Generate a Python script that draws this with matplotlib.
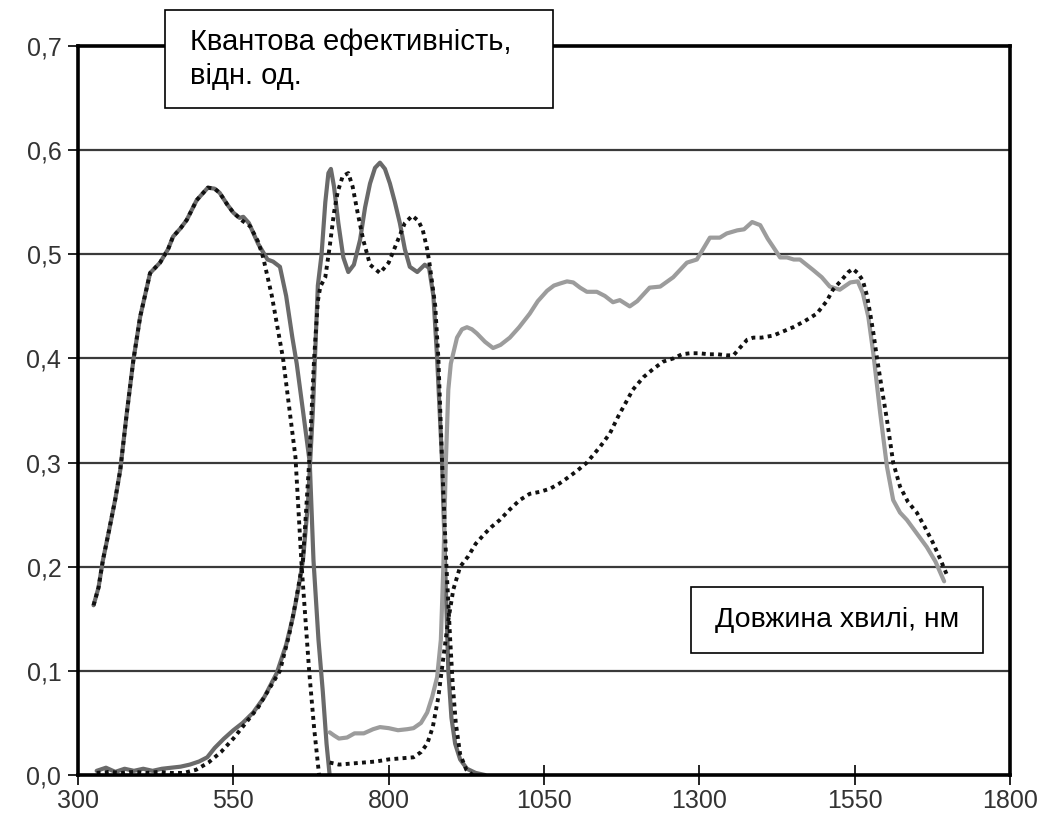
import matplotlib
matplotlib.use("Agg")
import matplotlib.pyplot as plt
from matplotlib.patches import Rectangle

plt.rcParams["font.family"] = ["Liberation Sans", "DejaVu Sans"]

# --- дані ---
# видимий діапазон (пунктир + суцільна темна)
vis_dot_x = [325, 333, 340, 350, 360, 368, 378, 389, 400, 416, 432, 445, 453, 465, 475, 491,
             509, 520, 528, 540, 550, 565, 577, 590, 598, 612, 630, 650, 660, 672, 680, 688]
vis_dot_y = [0.163, 0.18, 0.206, 0.235, 0.265, 0.293, 0.345, 0.398, 0.44, 0.482, 0.492, 0.505,
             0.517, 0.525, 0.533, 0.552, 0.564, 0.563, 0.559, 0.548, 0.54, 0.532, 0.527, 0.512,
             0.497, 0.46, 0.40, 0.305, 0.2, 0.1, 0.045, 0.0]
vis_sol_x = [325, 333, 340, 350, 360, 368, 378, 389, 400, 416, 432, 445, 453, 465, 475, 491,
             509, 520, 528, 540, 550, 560, 566, 575, 590, 605, 614, 625, 635, 645, 652, 662,
             673, 679, 687, 694, 700, 705]
vis_sol_y = [0.163, 0.18, 0.206, 0.235, 0.265, 0.293, 0.345, 0.398, 0.44, 0.482, 0.492, 0.505,
             0.517, 0.525, 0.533, 0.552, 0.564, 0.563, 0.559, 0.548, 0.54, 0.535, 0.536, 0.53,
             0.51, 0.495, 0.493, 0.488, 0.46, 0.42, 0.395, 0.35, 0.30, 0.206, 0.13, 0.08, 0.03, 0.0]

# ближній ІЧ діапазон
nir_sol_x = [330, 345, 360, 375, 390, 405, 420, 435, 450, 465, 480, 495, 508, 520, 535, 550,
             565, 582, 600, 620, 635, 646, 655, 662, 670, 678, 686, 692, 698, 703, 707, 712,
             719, 727, 735, 744, 754, 762, 770, 778, 786, 794, 802, 810, 818, 826, 834, 846,
             858, 865, 872, 878, 886, 891, 896, 901, 907, 915, 926, 940, 955]
nir_sol_y = [0.004, 0.007, 0.003, 0.006, 0.004, 0.006, 0.004, 0.006, 0.007, 0.008, 0.01, 0.013,
             0.017, 0.026, 0.035, 0.043, 0.05, 0.06, 0.075, 0.098, 0.125, 0.152, 0.18, 0.206,
             0.26, 0.35, 0.47, 0.5, 0.55, 0.578, 0.582, 0.565, 0.53, 0.497, 0.483, 0.49, 0.514,
             0.545, 0.568, 0.583, 0.588, 0.582, 0.568, 0.55, 0.53, 0.505, 0.488, 0.483, 0.49,
             0.487, 0.46, 0.40, 0.30, 0.2, 0.1, 0.055, 0.03, 0.015, 0.006, 0.002, 0.0]
nir_dot_x = [330, 350, 370, 390, 410, 430, 450, 470, 490, 510, 530, 550, 570, 590, 610, 625,
             640, 650, 662, 672, 680, 686, 690, 698, 705, 712, 718, 726, 735, 742, 750, 759,
             770, 786, 800, 813, 826, 838, 848, 855, 862, 866, 875, 880, 886, 893, 899, 903,
             908, 915, 925, 935]
nir_dot_y = [0.002, 0.003, 0.002, 0.003, 0.002, 0.003, 0.002, 0.002, 0.005, 0.012, 0.022, 0.035,
             0.05, 0.065, 0.085, 0.1, 0.135, 0.165, 0.206, 0.3, 0.4, 0.455, 0.469, 0.478, 0.507,
             0.54, 0.56, 0.575, 0.578, 0.565, 0.54, 0.514, 0.49, 0.482, 0.492, 0.511, 0.53,
             0.537, 0.532, 0.523, 0.505, 0.49, 0.45, 0.40, 0.30, 0.2, 0.13, 0.088, 0.05, 0.02,
             0.005, 0.0]

# короткохвильовий ІЧ діапазон
swir_sol_x = [705, 712, 720, 733, 745, 760, 775, 786, 800, 815, 830, 840, 852, 862, 870, 878,
              884, 888, 892, 896, 900, 904, 910, 918, 926, 934, 942, 955, 968, 980, 995, 1010,
              1027, 1040, 1055, 1066, 1076, 1087, 1097, 1108, 1119, 1135, 1148, 1161, 1172,
              1188, 1200, 1220, 1237, 1258, 1280, 1296, 1317, 1333, 1344, 1361, 1372, 1385,
              1398, 1410, 1419, 1430, 1441, 1452, 1462, 1483, 1497, 1510, 1526, 1543, 1555,
              1563, 1572, 1580, 1591, 1602, 1612, 1623, 1634, 1650, 1666, 1680, 1694]
swir_sol_y = [0.041, 0.038, 0.035, 0.036, 0.04, 0.04, 0.044, 0.046, 0.045, 0.043, 0.044, 0.045,
              0.05, 0.06, 0.075, 0.094, 0.13, 0.2, 0.3, 0.37, 0.395, 0.405, 0.42, 0.428, 0.43,
              0.428, 0.424, 0.416, 0.41, 0.413, 0.42, 0.43, 0.443, 0.455, 0.465, 0.47, 0.472,
              0.474, 0.473, 0.468, 0.464, 0.464, 0.46, 0.454, 0.456, 0.45, 0.455, 0.468, 0.469,
              0.478, 0.492, 0.495, 0.516, 0.516, 0.52, 0.523, 0.524, 0.531, 0.528, 0.515, 0.507,
              0.497, 0.497, 0.495, 0.495, 0.485, 0.478, 0.469, 0.466, 0.473, 0.474, 0.463, 0.44,
              0.405, 0.348, 0.296, 0.264, 0.252, 0.245, 0.232, 0.219, 0.205, 0.186]
swir_dot_x = [705, 720, 740, 760, 780, 800, 820, 840, 852, 862, 871, 880, 887, 895, 904, 915,
              928, 940, 955, 965, 979, 995, 1011, 1027, 1044, 1060, 1075, 1087, 1103, 1119, 1140,
              1156, 1170, 1182, 1193, 1210, 1226, 1242, 1258, 1272, 1285, 1300, 1315, 1330, 1344,
              1355, 1365, 1377, 1387, 1400, 1419, 1435, 1451, 1470, 1489, 1505, 1515, 1530, 1540,
              1547, 1555, 1563, 1570, 1575, 1580, 1586, 1594, 1602, 1612, 1623, 1636, 1650, 1663,
              1676, 1688, 1700]
swir_dot_y = [0.012, 0.01, 0.011, 0.012, 0.013, 0.015, 0.016, 0.017, 0.022, 0.03, 0.046, 0.075,
              0.108, 0.145, 0.178, 0.2, 0.21, 0.222, 0.232, 0.238, 0.245, 0.255, 0.264, 0.27,
              0.272, 0.275, 0.28, 0.285, 0.292, 0.3, 0.315, 0.328, 0.345, 0.358, 0.37, 0.382,
              0.39, 0.397, 0.40, 0.404, 0.405, 0.405, 0.404, 0.404, 0.403, 0.403, 0.41, 0.418,
              0.42, 0.42, 0.422, 0.426, 0.43, 0.436, 0.443, 0.455, 0.466, 0.476, 0.483, 0.486,
              0.482, 0.475, 0.46, 0.443, 0.425, 0.40, 0.37, 0.341, 0.30, 0.277, 0.262, 0.252,
              0.238, 0.223, 0.207, 0.19]

x_ticks = [300, 550, 800, 1050, 1300, 1550, 1800]
y_ticks = [0.0, 0.1, 0.2, 0.3, 0.4, 0.5, 0.6, 0.7]
y_labels = ["0,0", "0,1", "0,2", "0,3", "0,4", "0,5", "0,6", "0,7"]

fig = plt.figure(figsize=(10.5, 8.25), dpi=100)
ax = fig.add_axes([0.0743, 0.0606, 0.8876, 0.8836])
ax.set_xlim(300, 1800); ax.set_ylim(0, 0.7)

for y in y_ticks[1:-1]:
    ax.axhline(y, color="#3a3a3a", lw=1.6, zorder=1)

dark, light = "#6a6a6a", "#9c9c9c"
kw_sol = dict(lw=3.0, solid_joinstyle="round", solid_capstyle="round", zorder=3)
kw_dot = dict(color="#111111", lw=2.8, ls=(0, (1, 1.1)), dash_capstyle="butt", zorder=4)
ax.plot(vis_sol_x, vis_sol_y, color=dark, **kw_sol)
ax.plot(nir_sol_x, nir_sol_y, color=dark, **kw_sol)
ax.plot(swir_sol_x, swir_sol_y, color=light, **kw_sol)
ax.plot(vis_dot_x, vis_dot_y, **kw_dot)
ax.plot(nir_dot_x, nir_dot_y, **kw_dot)
ax.plot(swir_dot_x, swir_dot_y, **kw_dot)

for s in ax.spines.values():
    s.set_linewidth(2.6); s.set_color("black"); s.set_zorder(5)
tick_font = ["Liberation Sans Narrow", "Liberation Sans", "DejaVu Sans"]
ax.set_xticks(x_ticks)
ax.set_xticklabels([str(v) for v in x_ticks], family=tick_font)
ax.set_yticks(y_ticks)
ax.set_yticklabels(y_labels, family=tick_font)
ax.tick_params(axis="x", direction="inout", length=14, width=1.2, labelsize=18,
               labelcolor="#333333", pad=3)
ax.tick_params(axis="y", direction="out", length=7, width=1.2, labelsize=18,
               labelcolor="#333333", pad=5)

# підписи осей у рамках
ax.add_patch(Rectangle((0.0933, 0.915), 0.4164, 0.134, transform=ax.transAxes, fc="white",
                       ec="black", lw=1.2, clip_on=False, zorder=6))
ax.text(0.12, 0.982, "Квантова ефективність,\nвідн. од.", transform=ax.transAxes,
        ha="left", va="center", fontsize=21, linespacing=1.3, zorder=7)
ax.add_patch(Rectangle((0.658, 0.167), 0.313, 0.0905, transform=ax.transAxes, fc="white",
                       ec="black", lw=1.2, zorder=6))
ax.text(0.8145, 0.212, "Довжина хвилі, нм", transform=ax.transAxes,
        ha="center", va="center", fontsize=20.5, zorder=7)

fig.savefig("out.png", dpi=100)
